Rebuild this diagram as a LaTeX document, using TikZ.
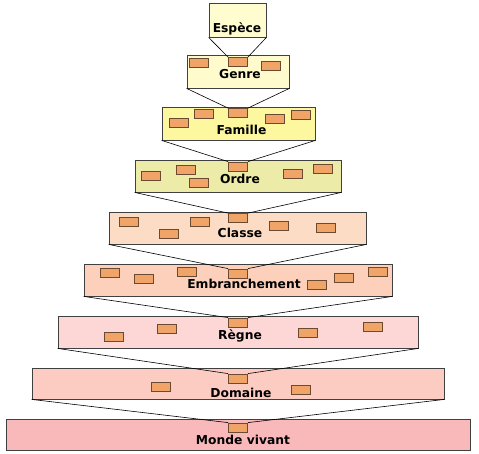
\documentclass[tikz,border=0pt]{standalone}
\usepackage{fontspec}
\setmainfont{DejaVu Sans}
\usetikzlibrary{fit}
\definecolor{cEsp}{HTML}{FFFDD0}
\definecolor{cGen}{HTML}{FFFBCC}
\definecolor{cFam}{HTML}{FDF8A0}
\definecolor{cOrd}{HTML}{EDEBA8}
\definecolor{cCla}{HTML}{FDDCC6}
\definecolor{cEmb}{HTML}{FCD0BA}
\definecolor{cReg}{HTML}{FDD6D6}
\definecolor{cDom}{HTML}{FCCCC2}
\definecolor{cMon}{HTML}{F9B8BA}
\definecolor{chipfill}{HTML}{F0A468}
\definecolor{chipline}{HTML}{6A4A30}
\definecolor{boxline}{HTML}{404040}
\tikzset{
  lvlbox/.style={draw=boxline, line width=0.8pt, inner sep=0pt},
  chip/.style={draw=chipline, fill=chipfill, line width=0.8pt, minimum width=19pt, minimum height=9pt, inner sep=0pt},
  lbl/.style={anchor=base, inner sep=0pt, font=\fontsize{12.3}{14}\selectfont\bfseries},
  link/.style={draw=black, line width=0.6pt}
}
\begin{document}
\begin{tikzpicture}[x=1pt,y=-1pt]
\useasboundingbox[fill=white] (0,0) rectangle (479,453);
% levels
\node[lvlbox, fill=cEsp, fit={(209,3) (266,37)}] (b1) {};
\node[lvlbox, fill=cGen, fit={(187,55) (289,88)}] (b2) {};
\node[lvlbox, fill=cFam, fit={(162,107) (315,140)}] (b3) {};
\node[lvlbox, fill=cOrd, fit={(135,160) (341,192)}] (b4) {};
\node[lvlbox, fill=cCla, fit={(109,212) (366,244)}] (b5) {};
\node[lvlbox, fill=cEmb, fit={(84,264) (392,296)}] (b6) {};
\node[lvlbox, fill=cReg, fit={(58,316) (418,348)}] (b7) {};
\node[lvlbox, fill=cDom, fit={(32,368) (444,399)}] (b8) {};
\node[lvlbox, fill=cMon, fit={(6,419) (470,450)}] (b9) {};
% centre chips
\node[chip] (c2) at (238,62) {};
\node[chip] (c3) at (238,113) {};
\node[chip] (c4) at (238,166.5) {};
\node[chip] (c5) at (238,218) {};
\node[chip] (c6) at (238,273.5) {};
\node[chip] (c7) at (238,322.5) {};
\node[chip] (c8) at (238,378.5) {};
\node[chip] (c9) at (238,427.5) {};
% other chips
\node[chip] (g1) at (198.5,62.5) {};
\node[chip] (g2) at (270.5,65.5) {};
\node[chip] (f1) at (179,122.5) {};
\node[chip] (f2) at (204,114) {};
\node[chip] (f3) at (274.5,118.5) {};
\node[chip] (f4) at (301,115) {};
\node[chip] (o1) at (151,175.5) {};
\node[chip] (o2) at (185.5,170) {};
\node[chip] (o3) at (198.5,183) {};
\node[chip] (o4) at (293,173.5) {};
\node[chip] (o5) at (323,168.5) {};
\node[chip] (k1) at (129,221.5) {};
\node[chip] (k2) at (169,233.5) {};
\node[chip] (k3) at (199.5,221.5) {};
\node[chip] (k4) at (279,226) {};
\node[chip] (k5) at (326,227.5) {};
\node[chip] (e1) at (110,273) {};
\node[chip] (e2) at (144,279) {};
\node[chip] (e3) at (186.5,271.5) {};
\node[chip] (e4) at (317,284.5) {};
\node[chip] (e5) at (343.5,277.5) {};
\node[chip] (e6) at (378,271.5) {};
\node[chip] (r1) at (113.5,337) {};
\node[chip] (r2) at (167,328.5) {};
\node[chip] (r3) at (308,332.5) {};
\node[chip] (r4) at (373,326.5) {};
\node[chip] (d1) at (161,386.5) {};
\node[chip] (d2) at (300.5,389.5) {};
% labels
\node[lbl] (t1) at (237,32) {Espèce};
\node[lbl] (t2) at (240,78) {Genre};
\node[lbl] (t3) at (241.5,134) {Famille};
\node[lbl] (t4) at (240,183) {Ordre};
\node[lbl] (t5) at (240,237) {Classe};
\node[lbl] (t6) at (244,288) {Embranchement};
\node[lbl] (t7) at (240,339) {Règne};
\node[lbl] (t8) at (241,397) {Domaine};
\node[lbl] (t9) at (243,444) {Monde vivant};
% connectors
\foreach \a/\b in {b1/c2,b2/c3,b3/c4,b4/c5,b5/c6,b6/c7,b7/c8,b8/c9}{
  \draw[link] (\a.south west) -- (\b.north west);
  \draw[link] (\a.south east) -- (\b.north east);
}
\end{tikzpicture}
\end{document}
